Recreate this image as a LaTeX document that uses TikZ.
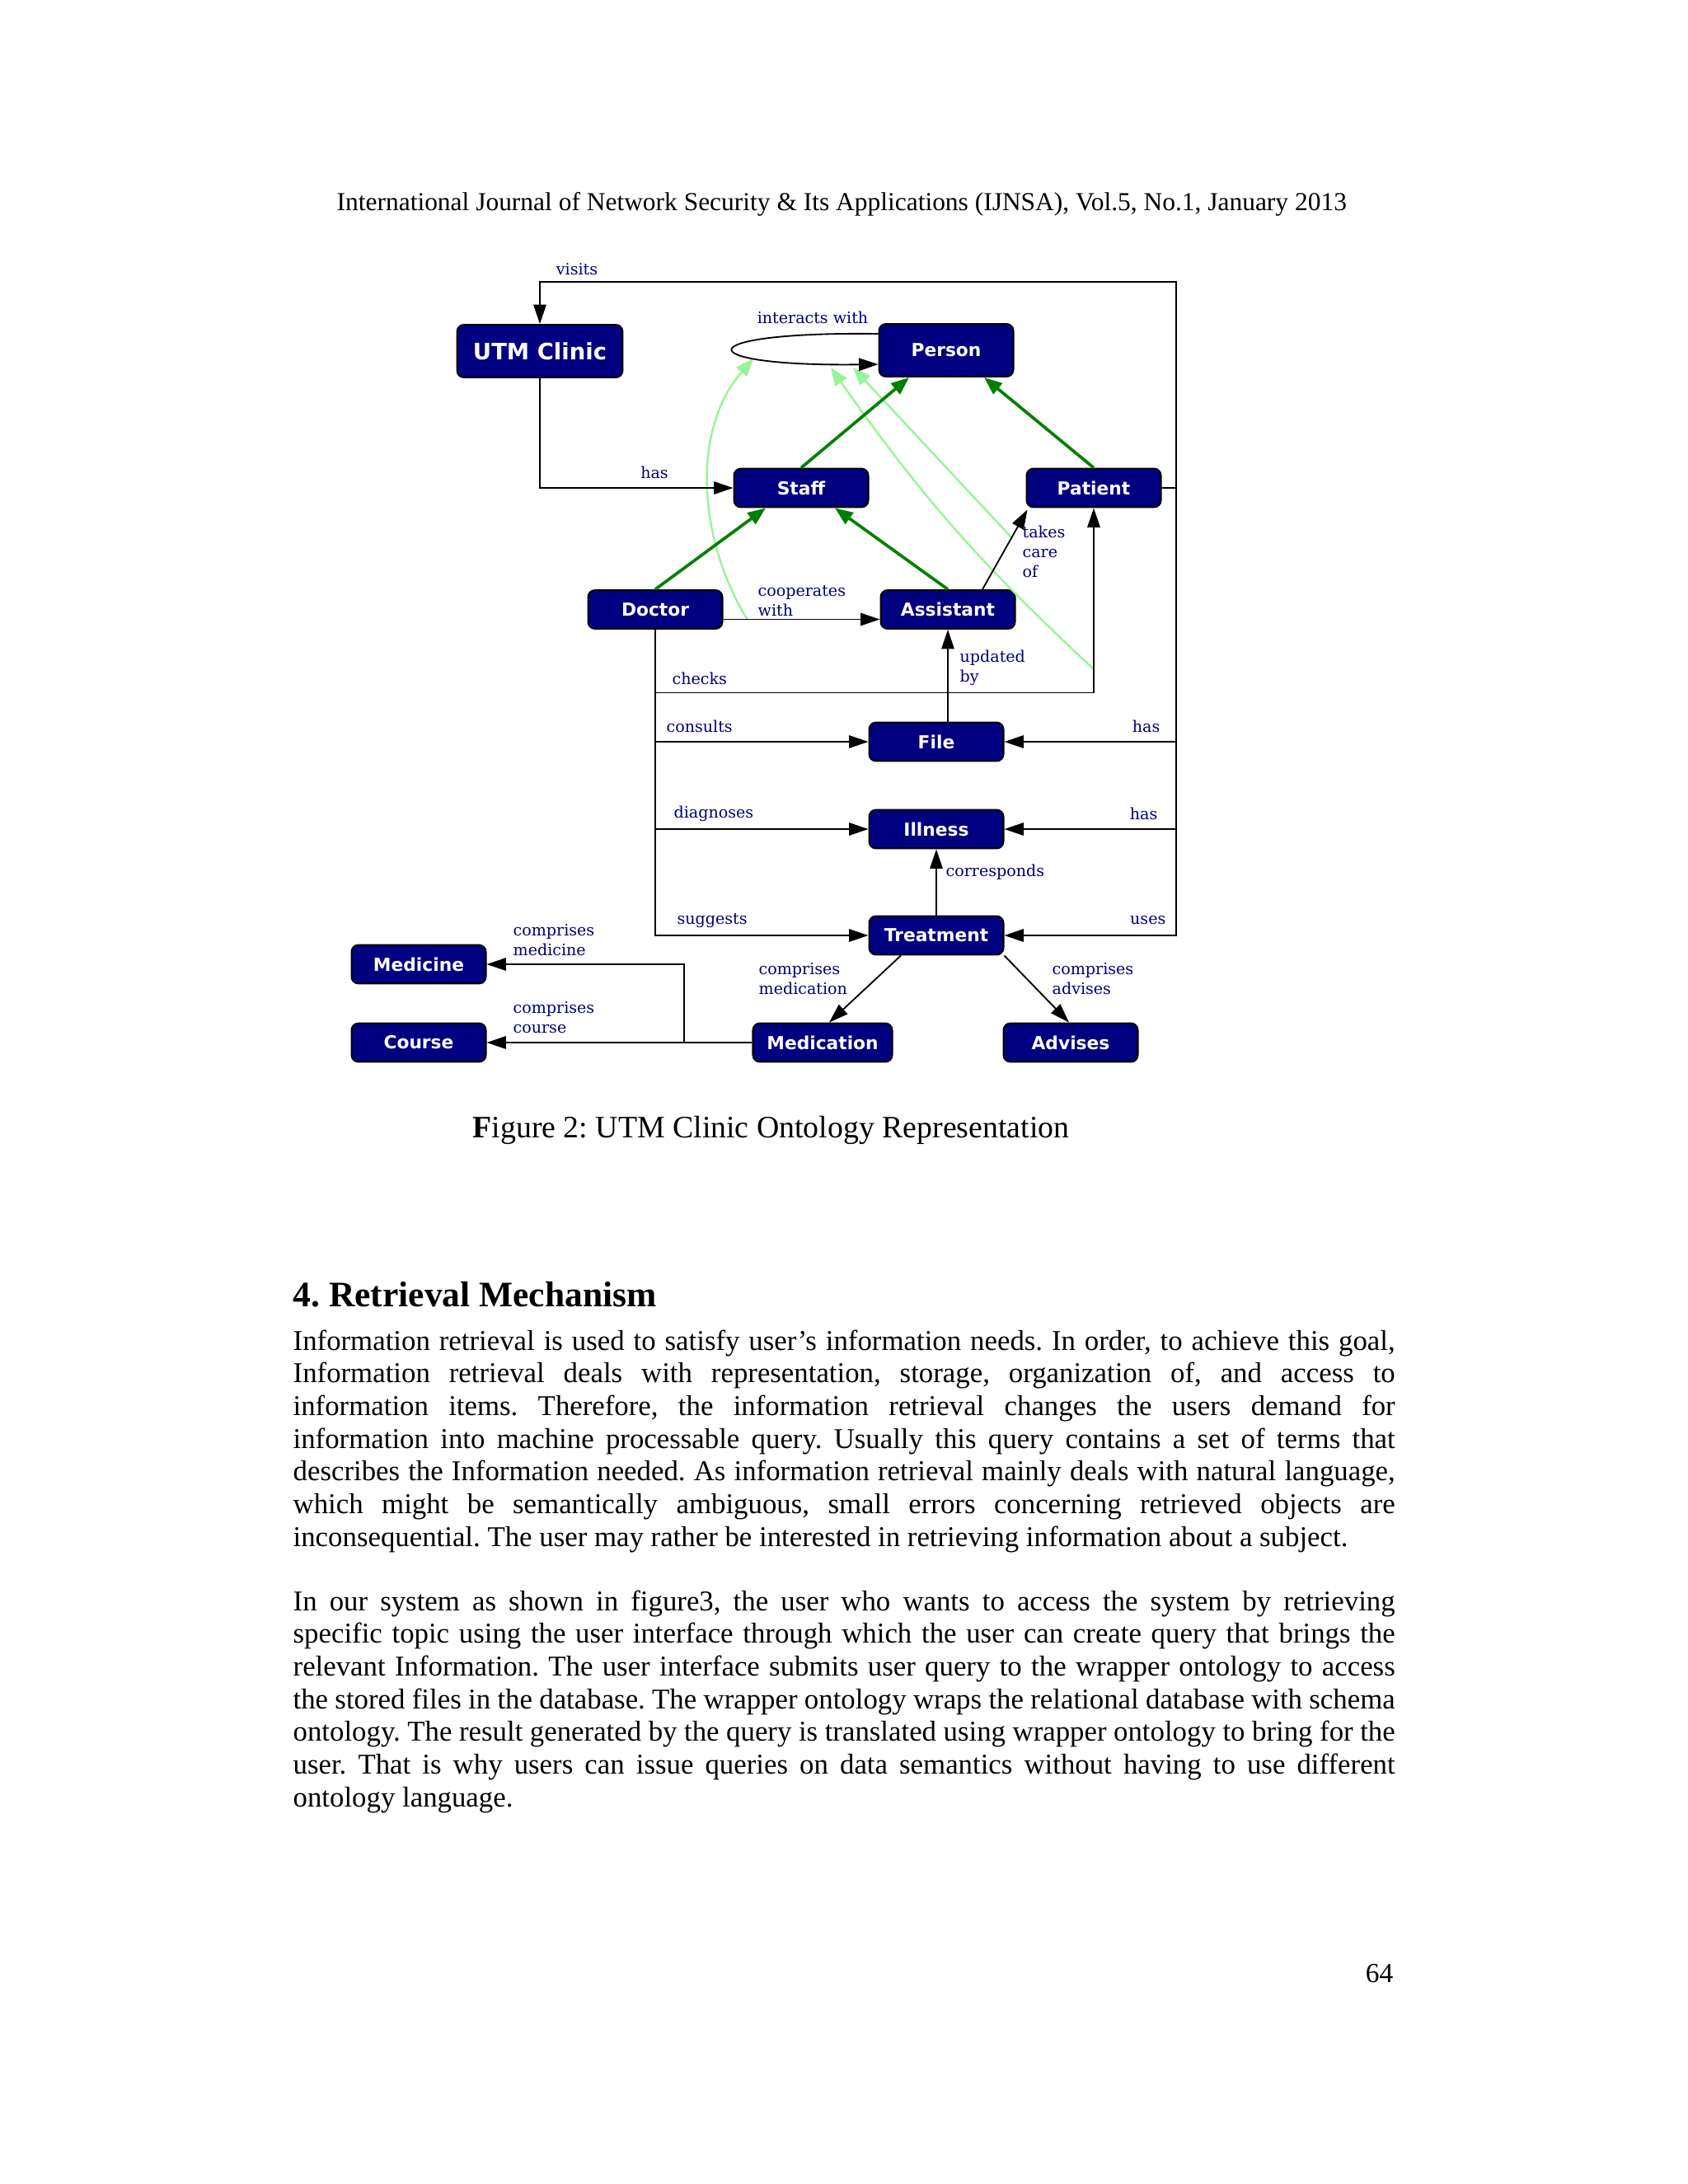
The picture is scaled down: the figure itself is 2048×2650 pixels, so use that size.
\documentclass[tikz,border=0pt]{standalone}
\usepackage{fontspec}
\setmainfont{Liberation Serif}
\newfontfamily\boxfont{DejaVu Sans}
\newfontfamily\relfont{DejaVu Serif}
\usetikzlibrary{arrows.meta,calc}
\frenchspacing

\definecolor{boxblue}{RGB}{0,0,128}
\definecolor{relblue}{RGB}{0,0,120}
\definecolor{isagreen}{RGB}{0,128,0}
\definecolor{subgreen}{RGB}{150,245,150}

\tikzset{
  concept/.style={draw=black, line width=0.6pt, fill=boxblue, rounded corners=2.5pt,
    text=white, font=\boxfont\bfseries\fontsize{6.5}{7}\selectfont,
    minimum width=48.7pt, minimum height=14pt, inner sep=0pt},
  rel/.style={draw=black, line width=0.55pt, -{Triangle[length=7pt,width=4.6pt]}},
  isa/.style={draw=isagreen, line width=1.1pt, -{Triangle[length=6.5pt,width=5pt]}},
  subprop/.style={draw=subgreen, line width=0.7pt, -{Triangle[length=6.5pt,width=5pt]}},
  rlabel/.style={text=relblue, font=\relfont\fontsize{5.7}{7.2}\selectfont, align=left, inner sep=0pt},
  pagetext/.style={inner sep=0pt, text width=399.5pt, align=justify,
    font=\frenchspacing\fontsize{10.4}{11.86}\selectfont},
}

\begin{document}
\begin{tikzpicture}[x=0.2988pt,y=0.2988pt,yscale=-1]
\useasboundingbox[fill=white] (0,0) rectangle (2048,2650);

% Header
\node[inner sep=0pt, anchor=base west, font=\fontsize{9.4}{11}\selectfont] (header) at (408,255)
  {International Journal of Network Security \& Its Applications (IJNSA), Vol.5, No.1, January 2013};

%Concepts
\node[concept, minimum width=60pt, minimum height=19.1pt, font=\boxfont\bfseries\fontsize{8.2}{9}\selectfont] (clinic) at (655,426) {UTM Clinic};
\node[concept, minimum height=19.1pt] (person) at (1148,425) {Person};
\node[concept] (staff) at (972,592) {Staff};
\node[concept] (patient) at (1327,592) {Patient};
\node[concept] (doctor) at (795,739.5) {Doctor};
\node[concept] (assistant) at (1150,739.5) {Assistant};
\node[concept] (file) at (1136,900) {File};
\node[concept] (illness) at (1136,1006) {Illness};
\node[concept] (treatment) at (1136,1135) {Treatment};
\node[concept] (medicine) at (508,1170) {Medicine};
\node[concept] (course) at (508,1265) {Course};
\node[concept, minimum width=50.5pt] (medication) at (998,1265) {Medication};
\node[concept] (advises) at (1299,1265) {Advises};

%Helper points
\coordinate (rail) at (1427,342);
\coordinate (split) at (830,1265);
\coordinate (loopA) at ($(person.west)+(0,-20)$);
\coordinate (loopB) at ($(person.west)+(0,17)$);
\coordinate (loop1) at (914,435);
\coordinate (loop2) at (1008,446);
\coordinate (loop3) at (1035,446);
\coordinate (coopmid) at ($(doctor.east)+(29,12)$);
\coordinate (caremid) at (1227,652);
\coordinate (checksmid) at (1327,812);

%Sub properties
\draw[subprop] (coopmid) .. controls (845,650) and (840,520) .. (loop1);
\draw[subprop] (checksmid) to[bend right=6] (loop2);
\draw[subprop] (caremid) -- (loop3);

%Is-a links
\draw[isa] (staff.north) -- ($(person.south)+(-45,0)$);
\draw[isa] (patient.north) -- ($(person.south)+(46,0)$);
\draw[isa] (doctor.north) -- ($(staff.south)+(-43,0)$);
\draw[isa] (assistant.north) -- ($(staff.south)+(41,0)$);

%Relations
\draw[rel] (patient.east) -| (rail) -| (clinic.north);
\draw[rel] (clinic.south) |- (staff.west);
\draw[rel] (loopA) .. controls (832,402) and (832,445) .. (loopB);
\draw[rel] ($(doctor.east)+(0,12)$) -- ($(assistant.west)+(0,12)$);
\draw[rel] ($(assistant.north)+(42,0)$) -- ($(patient.south west)+(2,2)$);
\draw[rel] (doctor.south) |- ($(patient.south)+(0,224)$) -- (patient.south);
\draw[rel] (assistant.south |- file.north) -- (assistant.south);
\draw[rel] (doctor.south) |- (file.west);
\draw[rel] (doctor.south) |- (illness.west);
\draw[rel] (doctor.south) |- (treatment.west);
\draw[rel] (patient.east) -| (rail |- file.east) -- (file.east);
\draw[rel] (patient.east) -| (rail |- illness.east) -- (illness.east);
\draw[rel] (patient.east) -| (rail |- treatment.east) -- (treatment.east);
\draw[rel] (treatment.north) -- (illness.south);
\draw[rel] ($(treatment.south)+(-43,0)$) -- ($(medication.north)+(8,0)$);
\draw[rel] (treatment.south east) -- ($(advises.north)+(-2,0)$);
\draw[rel] (medication.west) -- (split) |- (medicine.east);
\draw[rel] (medication.west) -- (course.east);

% Text Node
\node[rlabel] (visitslbl) at (700,327) {visits};
\node[rlabel] (haslbl) at (794,573) {has};
\node[rlabel] (interlbl) at (986,385) {interacts with};
\node[rlabel, anchor=west] (cooplbl) at (919,729) {cooperates\\with};
\node[rlabel, anchor=west] (carelbl) at (1240,669) {takes\\care\\of};
\node[rlabel, anchor=west] (updlbl) at (1164,810) {updated\\by};
\node[rlabel, anchor=west] (checkslbl) at (815,823) {checks};
\node[rlabel, anchor=west] (consultslbl) at (808,881) {consults};
\node[rlabel, anchor=west] (diaglbl) at (817,987) {diagnoses};
\node[rlabel, anchor=west] (suggestslbl) at (821,1117) {suggests};
\node[rlabel, anchor=east] (hasfilelbl) at (1408,881) {has};
\node[rlabel, anchor=east] (hasilllbl) at (1405,987) {has};
\node[rlabel, anchor=east] (useslbl) at (1415,1117) {uses};
\node[rlabel, anchor=west] (corrlbl) at (1147,1058) {corresponds};
\node[rlabel, anchor=west] (cmedlbl) at (622,1141) {comprises\\medicine};
\node[rlabel, anchor=west] (ccourselbl) at (622,1235) {comprises\\course};
\node[rlabel, anchor=west] (cmedicationlbl) at (920,1188) {comprises\\medication};
\node[rlabel, anchor=west] (cadviseslbl) at (1276,1188) {comprises\\advises};

% Caption
\node[inner sep=0pt, anchor=base west, font=\fontsize{11.3}{13}\selectfont] (caption) at (573,1380)
  {\textbf{F}igure 2: UTM Clinic Ontology Representation};

% Section
\node[inner sep=0pt, anchor=base west, font=\bfseries\fontsize{13}{16}\selectfont] (heading) at (355,1585)
  {4. Retrieval Mechanism};
\node[pagetext, anchor=base west] (para1) at (355,1638)
  {Information retrieval is used to satisfy user’s information needs. In order, to achieve this goal,\linebreak
  Information retrieval deals with representation, storage, organization of, and access to\linebreak
  information items. Therefore, the information retrieval changes the users demand for\linebreak
  information into machine processable query. Usually this query contains a set of terms that\linebreak
  describes the Information needed. As information retrieval mainly deals with natural language,\linebreak
  which might be semantically ambiguous, small errors concerning retrieved objects are\linebreak
  inconsequential. The user may rather be interested in retrieving information about a subject.};
\node[pagetext, anchor=base west] (para2) at (355,1954)
  {In our system as shown in figure3, the user who wants to access the system by retrieving\linebreak
  specific topic using the user interface through which the user can create query that brings the\linebreak
  relevant Information. The user interface submits user query to the wrapper ontology to access\linebreak
  the stored files in the database. The wrapper ontology wraps the relational database with schema\linebreak
  ontology. The result generated by the query is translated using wrapper ontology to bring for the\linebreak
  user. That is why users can issue queries on data semantics without having to use different\linebreak
  ontology language.};

% Page number
\node[inner sep=0pt, anchor=base east, font=\fontsize{10}{12}\selectfont] (pagenum) at (1691,2405) {64};
\end{tikzpicture}
\end{document}
